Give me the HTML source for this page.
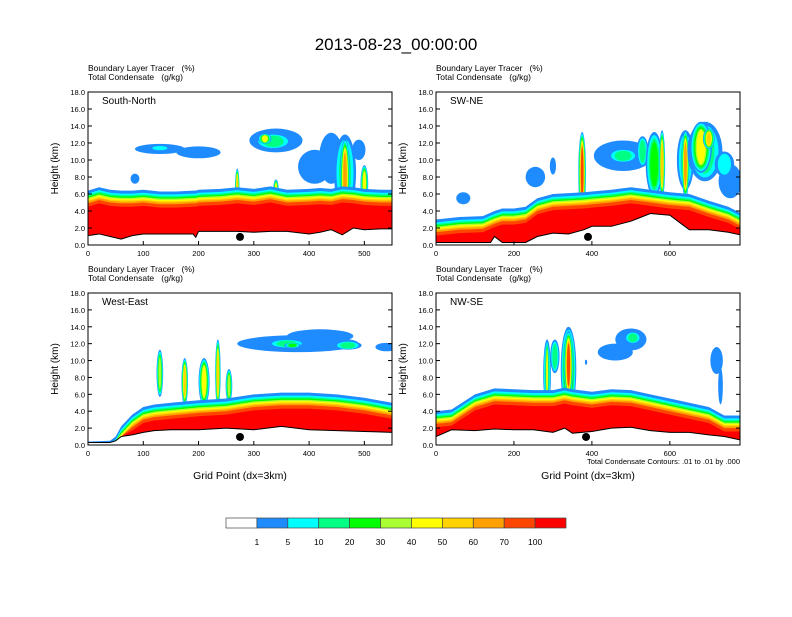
<!DOCTYPE html>
<html><head><meta charset="utf-8">
<style>
body{margin:0;background:#fff;font-family:"Liberation Sans",sans-serif;}
svg text{font-family:"Liberation Sans",sans-serif;white-space:pre;}
</style></head>
<body>
<svg id="s" width="792" height="612" xmlns="http://www.w3.org/2000/svg">
<rect width="792" height="612" fill="#fff"/>
<text x="396" y="50" font-size="17" text-anchor="middle">2013-08-23_00:00:00</text>
</svg>
<script>
const colors=["#ffffff","#1e8cff","#00ffff","#00ff82","#00ff00","#aaff32","#ffff00","#ffd200","#ffa000","#ff4600","#ff0000"];
const cbLabels=["1","5","10","20","30","40","50","60","70","100"];
const yTicks=[0,2,4,6,8,10,12,14,16,18];

// panel 1 South-North
const p1x=[0,20,40,60,80,100,130,160,190,195,200,240,270,300,330,360,400,420,440,460,480,500,530,550];
const p1terr=[1.1,1.3,1.0,0.7,1.1,1.3,1.3,1.3,1.3,0.9,1.6,1.6,1.6,1.5,1.6,1.6,1.3,1.5,1.8,1.2,2.0,1.8,1.9,1.9];
const p1top=[6.4,6.8,6.5,6.4,6.4,6.5,6.3,6.3,6.4,6.4,6.5,6.6,6.8,6.6,6.9,6.5,6.6,6.7,6.6,6.9,6.8,6.6,6.5,6.5];
// [x, z, rx, rz, maxLevel]
const p1cloud=[[130,11.3,45,0.6,1],[200,10.9,40,0.7,1],[85,7.8,8,0.6,1],[130,11.4,20,0.3,2],[340,12.3,48,1.4,1],[335,12.2,35,0.9,3],[320,12.5,12,0.6,6],[410,9.2,30,2.0,1],[440,10.2,22,3.0,1],[465,8.5,20,4.5,3],[465,8.0,9,4.5,8],[500,7.2,7,2.2,6],[270,6.8,4,2.2,7],[340,6.5,5,1.2,6],[490,11.2,12,1.2,1]];

// panel 2 SW-NE
const p2x=[0,60,120,140,150,170,200,230,260,300,340,380,400,450,500,550,600,650,700,750,780];
const p2terr=[0.3,0.3,0.3,0.3,1.0,0.3,0.3,0.3,1.0,1.4,1.3,1.8,2.2,2.2,2.8,3.7,3.5,1.8,1.8,1.5,1.2];
const p2top=[3.0,3.3,3.4,3.8,4.0,4.3,4.3,4.5,5.5,6.0,6.1,6.2,6.3,6.5,6.8,6.5,6.2,6.0,5.2,4.5,3.8];
const p2cloud=[[70,5.5,18,0.7,1],[255,8.0,25,1.2,1],[300,9.3,8,1.0,1],[375,8.5,10,4.8,9],[480,10.5,75,1.8,1],[480,10.5,40,0.8,3],[530,11.0,15,1.8,3],[560,9.5,22,3.8,4],[580,9.5,8,4,7],[640,10,22,3.5,3],[640,9.5,10,4,8],[690,11.0,45,3.5,3],[680,11.5,28,3.0,6],[700,12.5,15,1.2,7],[755,7.5,30,2,1],[740,9.5,25,1.5,2]];

// panel 3 West-East
const p3x=[0,40,50,60,80,100,120,150,200,250,300,350,400,450,500,550];
const p3terr=[0.3,0.3,0.5,1.0,1.2,1.5,1.7,1.8,1.8,2.0,1.8,2.2,1.8,1.7,1.6,1.5];
const p3top=[0.4,0.5,1.0,2.2,3.6,4.5,4.8,5.0,5.3,5.5,6.0,6.2,6.2,6.0,5.6,5.0];
const p3cloud=[[380,12.0,110,1.0,1],[420,12.9,60,0.8,1],[360,12.0,35,0.5,3],[370,11.8,15,0.3,4],[470,11.8,25,0.5,3],[540,11.6,20,0.5,1],[130,8.5,6,2.8,5],[175,7.5,6,2.8,7],[210,7.5,10,2.8,6],[235,8.5,5,4,7],[255,7,6,2,5]];

// panel 4 NW-SE
const p4x=[0,40,100,150,200,250,300,330,350,400,450,500,550,600,650,700,740,780];
const p4terr=[1.0,1.8,1.7,1.9,1.8,1.8,1.5,2.0,1.4,1.6,2.0,2.1,1.7,1.5,1.5,1.2,1.0,0.6];
const p4top=[4.0,4.2,6.0,6.7,6.6,6.5,6.5,6.8,6.6,6.3,6.6,6.5,6.0,5.5,5.0,4.5,3.5,3.5];
const p4cloud=[[285,8.5,10,4,4],[285,8.5,5,4,6],[305,10.5,12,2,3],[340,9.0,20,5,6],[340,9.5,12,4,9],[460,11.0,45,1.0,1],[500,12.5,40,1.3,1],[505,12.7,22,0.7,3],[720,10.0,16,1.6,1],[730,7.0,6,2.2,1],[385,9.8,3,0.3,1]];

const panels=[
 {x0:88,x1:392,y0:92,y1:245,xmax:550,xt:[0,100,200,300,400,500],label:"South-North",xs:p1x,terr:p1terr,top:p1top,cl:p1cloud,dot:275,name:"south-north"},
 {x0:436,x1:740,y0:92,y1:245,xmax:780,xt:[0,200,400,600],label:"SW-NE",xs:p2x,terr:p2terr,top:p2top,cl:p2cloud,dot:390,name:"sw-ne"},
 {x0:88,x1:392,y0:293,y1:445,xmax:550,xt:[0,100,200,300,400,500],label:"West-East",xs:p3x,terr:p3terr,top:p3top,cl:p3cloud,dot:275,name:"west-east"},
 {x0:436,x1:740,y0:293,y1:445,xmax:780,xt:[0,200,400,600],label:"NW-SE",xs:p4x,terr:p4terr,top:p4top,cl:p4cloud,dot:385,name:"nw-se"}
];
const offs=[0,0.35,0.55,0.7,0.85,1.0,1.15,1.3,1.5,1.9];
const NS="http://www.w3.org/2000/svg";
const svg=document.getElementById('s');
function mk(t,a,p){const e=document.createElementNS(NS,t);for(const k in a)e.setAttribute(k,a[k]);(p||svg).appendChild(e);return e;}
panels.forEach((P,pi)=>{
 const g=mk('g',{});
 
 
 const X=v=>P.x0+v/P.xmax*(P.x1-P.x0);
 const Y=v=>P.y1-v/18*(P.y1-P.y0);
 const cp='clip'+pi;
 const d=mk('defs',{},g);const c=mk('clipPath',{id:cp},d);mk('rect',{x:P.x0,y:P.y0,width:P.x1-P.x0,height:P.y1-P.y0},c);
 const pg=mk('g',{'clip-path':'url(#'+cp+')'},g);
 P.cl.forEach(cl=>{
  for(let l=1;l<=cl[4];l++){
   const f=1-(l-1)/(cl[4]+0.5)*0.8;
   const fy=1-(l-1)/(cl[4]+0.5)*0.45;
   const e=mk('ellipse',{cx:X(cl[0]),cy:Y(cl[1]),rx:cl[2]/P.xmax*(P.x1-P.x0)*f,ry:cl[3]/18*(P.y1-P.y0)*fy,fill:colors[l]},pg);
   
   
  }
 });
 offs.forEach((o,i)=>{
  let pts=P.xs.map((x,k)=>X(x)+','+Y(Math.max(P.terr[k],P.top[k]-o)));
  pts=pts.concat(P.xs.slice().reverse().map((x,k)=>{const kk=P.xs.length-1-k;return X(x)+','+Y(P.terr[kk]);}));
  const p=mk('polygon',{points:pts.join(' '),fill:colors[i+1]},pg);
  
  
 });
 const tl=mk('polyline',{points:P.xs.map((x,k)=>X(x)+','+Y(P.terr[k])).join(' '),fill:'none',stroke:'#000','stroke-width':1},pg);
 
 
 const dot=mk('circle',{cx:X(P.dot),cy:Y(0.95),r:4,fill:'#000'},g);
 
 
 const fr=mk('rect',{x:P.x0,y:P.y0,width:P.x1-P.x0,height:P.y1-P.y0,fill:'none',stroke:'#000','stroke-width':1},g);
 
 
 yTicks.forEach(v=>{
  mk('line',{x1:P.x0,x2:P.x0+4,y1:Y(v),y2:Y(v),stroke:'#000'},g);
  mk('line',{x1:P.x1,x2:P.x1-4,y1:Y(v),y2:Y(v),stroke:'#000'},g);
  const t=mk('text',{x:P.x0-3,y:Y(v)+3,'font-size':7.5,'text-anchor':'end'},g);t.textContent=v.toFixed(1);
  
  
 });
 P.xt.forEach(v=>{
  mk('line',{x1:X(v),x2:X(v),y1:P.y1,y2:P.y1-4,stroke:'#000'},g);
  const t=mk('text',{x:X(v),y:P.y1+11,'font-size':7.5,'text-anchor':'middle'},g);t.textContent=v;
  
  
 });
 const lb=mk('text',{x:P.x0+14,y:P.y0+12,'font-size':10},g);lb.textContent=P.label;
 
 
 const t1=mk('text',{x:P.x0,y:P.y0-21,'font-size':8.5},g);t1.textContent='Boundary Layer Tracer\u00a0\u00a0\u00a0(%)';
 
 
 const t2=mk('text',{x:P.x0,y:P.y0-12,'font-size':8.5},g);t2.textContent='Total Condensate\u00a0\u00a0\u00a0(g/kg)';
 
 
 const ya=mk('text',{x:0,y:0,'font-size':10,'text-anchor':'middle',transform:`translate(${P.x0-30},${(P.y0+P.y1)/2}) rotate(-90)`},g);ya.textContent='Height (km)';
 
 
 if(pi>=2){const xa=mk('text',{x:(P.x0+P.x1)/2,y:P.y1+34,'font-size':10.5,'text-anchor':'middle'},g);xa.textContent='Grid Point (dx=3km)';
  
  }
 if(pi===3){const n=mk('text',{x:P.x1,y:P.y1+19,'font-size':7.5,'text-anchor':'end'},g);n.textContent='Total Condensate Contours: .01 to .01 by .000';
  
  }
});
const cb=mk('g',{});


const bx=226,bw=340/11;
colors.forEach((c,i)=>{const r=mk('rect',{x:bx+i*bw,y:518,width:bw,height:10,fill:c,stroke:'#444','stroke-width':0.7},cb);
 
 });
cbLabels.forEach((l,i)=>{const t=mk('text',{x:bx+(i+1)*bw,y:545,'font-size':8.5,'text-anchor':'middle'},cb);t.textContent=l;
 
 });
</script>
</body></html>
